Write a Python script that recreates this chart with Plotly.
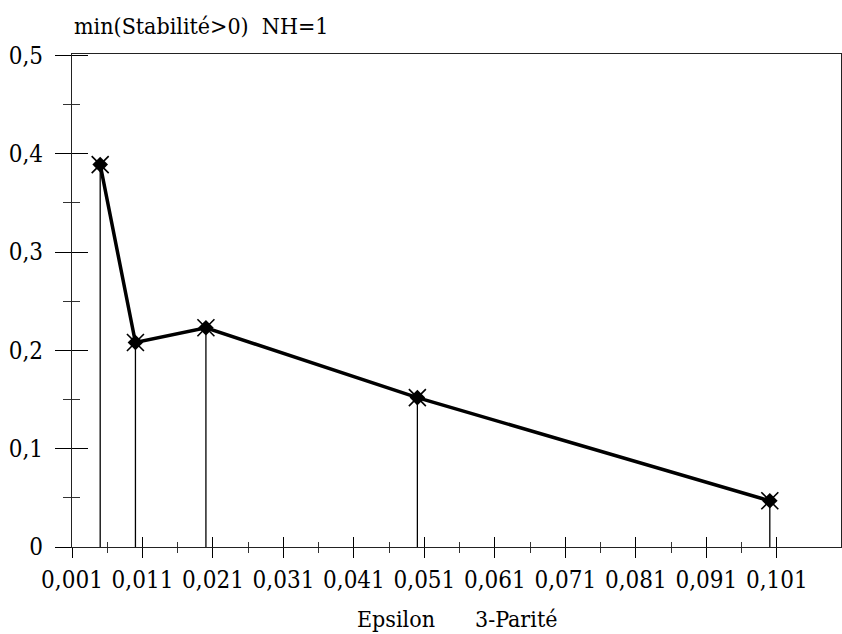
import plotly.graph_objects as go

# Data
epsilon = [0.005, 0.01, 0.02, 0.05, 0.1]
stabilite = [0.389, 0.208, 0.223, 0.152, 0.047]

x_tickvals = [0.001, 0.011, 0.021, 0.031, 0.041, 0.051, 0.061, 0.071, 0.081, 0.091, 0.101]
x_ticktext = ["0,001", "0,011", "0,021", "0,031", "0,041", "0,051", "0,061", "0,071", "0,081", "0,091", "0,101"]
x_minor = [0.006, 0.016, 0.026, 0.036, 0.046, 0.056, 0.066, 0.076, 0.086, 0.096]
y_tickvals = [0, 0.1, 0.2, 0.3, 0.4, 0.5]
y_ticktext = ["0", "0,1", "0,2", "0,3", "0,4", "0,5"]
y_minor = [0.05, 0.15, 0.25, 0.35, 0.45]

title_text = "min(Stabilité>0)&nbsp;&nbsp;NH=1"
xlabel_left = "Epsilon"
xlabel_right = "3-Parité"

FONT = "DejaVu Serif Condensed"
FS = 23
TFS = 24
XR = [0.001, 0.1101]
YR = [0, 0.5015]

fig = go.Figure()

# stems to zero
fig.add_trace(go.Scatter(
    x=epsilon, y=stabilite, mode="markers",
    marker=dict(size=1, color="black"),
    error_y=dict(type="data", symmetric=False, array=[0] * len(stabilite),
                 arrayminus=stabilite, width=0, thickness=1.3, color="black"),
    hoverinfo="skip", showlegend=False))

# main line + filled markers
fig.add_trace(go.Scatter(
    x=epsilon, y=stabilite, mode="lines+markers",
    line=dict(color="black", width=3.5),
    marker=dict(symbol="diamond", size=12, color="black"),
    showlegend=False))

# X crosses over markers
fig.add_trace(go.Scatter(
    x=epsilon, y=stabilite, mode="markers",
    marker=dict(symbol="x-thin-open", size=17, color="black",
                line=dict(width=1.6, color="black")),
    showlegend=False))

# invisible trace on overlay axes (inside half of the crossing ticks)
fig.add_trace(go.Scatter(x=epsilon, y=stabilite, xaxis="x2", yaxis="y2",
                         mode="markers", marker=dict(opacity=0, size=1),
                         hoverinfo="skip", showlegend=False))

fig.update_layout(
    width=842, height=634,
    margin=dict(l=72, r=1, t=54, b=87),
    paper_bgcolor="white", plot_bgcolor="white",
    font=dict(family=FONT, size=FS, color="black"),
    xaxis=dict(
        range=XR, showgrid=False, zeroline=False,
        showline=True, linecolor="#222", linewidth=1.3, mirror=True,
        tickmode="array", tickvals=x_tickvals, ticktext=x_ticktext,
        ticks="outside", ticklen=10, tickwidth=1.3, tickcolor="black",
        tickangle=0, ticklabelstandoff=1,
        minor=dict(tickmode="array", tickvals=x_minor, ticks="outside",
                   ticklen=5, tickwidth=1.1, tickcolor="#333"),
        tickfont=dict(family=FONT, size=TFS, color="black"),
    ),
    yaxis=dict(
        range=YR, showgrid=False, zeroline=False,
        showline=True, linecolor="#222", linewidth=1.3, mirror=True,
        tickmode="array", tickvals=y_tickvals, ticktext=y_ticktext,
        ticks="outside", ticklen=16, tickwidth=1.3, tickcolor="black",
        ticklabelstandoff=7,
        minor=dict(tickmode="array", tickvals=y_minor, ticks="outside",
                   ticklen=8, tickwidth=1.1, tickcolor="#333"),
        tickfont=dict(family=FONT, size=TFS, color="black"),
    ),
    xaxis2=dict(
        range=XR, overlaying="x", anchor="y2", side="bottom",
        showgrid=False, zeroline=False, showline=False, showticklabels=False,
        tickmode="array", tickvals=x_tickvals,
        ticks="inside", ticklen=10, tickwidth=1.3, tickcolor="black",
        minor=dict(tickmode="array", tickvals=x_minor, ticks="inside",
                   ticklen=5, tickwidth=1.1, tickcolor="#333"),
    ),
    yaxis2=dict(
        range=YR, overlaying="y", anchor="x2", side="left",
        showgrid=False, zeroline=False, showline=False, showticklabels=False,
        tickmode="array", tickvals=y_tickvals,
        ticks="inside", ticklen=16, tickwidth=1.3, tickcolor="black",
        minor=dict(tickmode="array", tickvals=y_minor, ticks="inside",
                   ticklen=8, tickwidth=1.1, tickcolor="#333"),
    ),
    annotations=[
        dict(text=title_text, xref="paper", yref="paper", x=0, y=1.056,
             xanchor="left", yanchor="middle", showarrow=False,
             font=dict(family=FONT, size=FS, color="black")),
        dict(text=xlabel_left, xref="paper", yref="paper", x=0.421, y=-0.147,
             xanchor="center", yanchor="middle", showarrow=False,
             font=dict(family=FONT, size=FS, color="black")),
        dict(text=xlabel_right, xref="paper", yref="paper", x=0.578, y=-0.147,
             xanchor="center", yanchor="middle", showarrow=False,
             font=dict(family=FONT, size=FS, color="black")),
    ],
)

fig.write_html("out.html")
